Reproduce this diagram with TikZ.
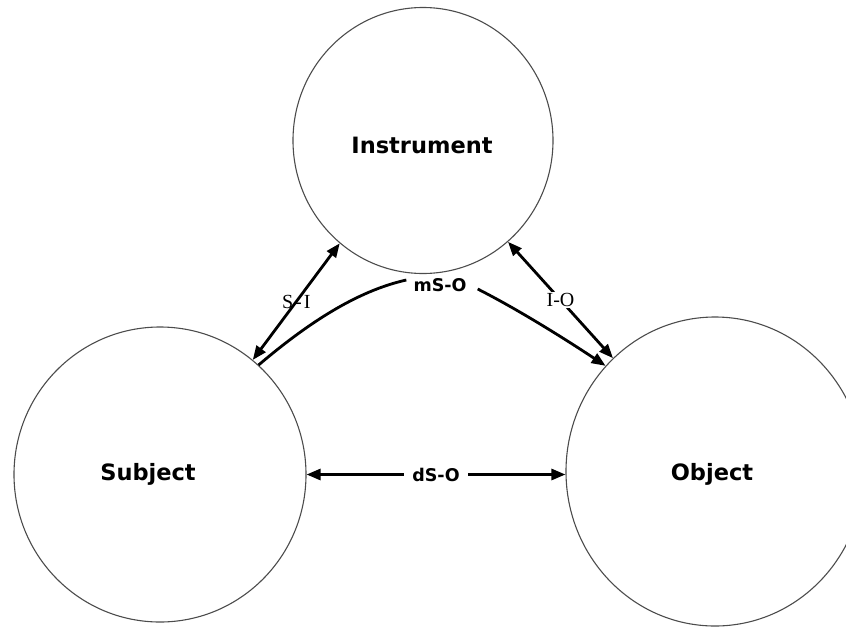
\documentclass[tikz,border=0pt]{standalone}
\usepackage{fontspec}
\setmainfont{DejaVu Sans}
\newfontfamily\relfont{Liberation Serif}
\usetikzlibrary{arrows.meta,shapes.geometric}

\tikzset{
  actor/.style={ellipse, draw=black!70, line width=1.1pt, inner sep=0pt},
  actorname/.style={font=\fontsize{22.5}{26}\selectfont\bfseries, inner sep=0pt},
  rel/.style={line width=2.8pt, black},
  tip/.style={-{Triangle[length=14pt,width=11pt]}},
  bitip/.style={{Triangle[length=14pt,width=11pt]}-{Triangle[length=14pt,width=11pt]}},
  mediated/.style={font=\fontsize{17.5}{20}\selectfont\bfseries, inner sep=2pt},
  pairlabel/.style={font=\relfont\fontsize{20}{22}\selectfont, inner sep=1pt}
}

\begin{document}
\begin{tikzpicture}[x=1pt,y=-1pt]
  \useasboundingbox (0,0) rectangle (846,627);
  \clip (0,0) rectangle (846,627);

  % the three elements of the activity triangle
  \node[actor, minimum width=260pt, minimum height=266pt] (I) at (423,140.5) {};
  \node[actor, minimum width=292pt, minimum height=295pt] (S) at (160,474.5) {};
  \node[actor, minimum width=298pt, minimum height=309pt] (O) at (715,471.5) {};

  \node[actorname] (Itext) at (422,145) {Instrument};
  \node[actorname] (Stext) at (148,474) {Subject};
  \node[actorname] (Otext) at (712,474) {Object};

  % direct subject-object relation
  \draw[rel, bitip] (S.east) -- node[mediated, fill=white, inner sep=8pt] (dso) {dS-O} (S.east -| O.west);

  % subject-instrument and instrument-object relations
  \draw[rel, bitip] (S.51.4) -- node[pairlabel] (si) {S\kern2pt-\kern2pt I} (I.231.5);
  \draw[rel, bitip] (I.310.6) -- node[pairlabel, fill=white, pos=0.5] (io) {I-O} (O.132.8);

  % relation mediated by the instrument
  \node[mediated] (mso) at (440,285) {mS-O};
  \draw[rel] (S.48.7) .. controls (308,323) and (357,291) .. ([xshift=-5pt,yshift=5pt]mso.west);
  \draw[rel, tip] ([xshift=9pt,yshift=-4pt]mso.east) .. controls (517,309) and (562,337) .. (O.136.7);
\end{tikzpicture}
\end{document}
